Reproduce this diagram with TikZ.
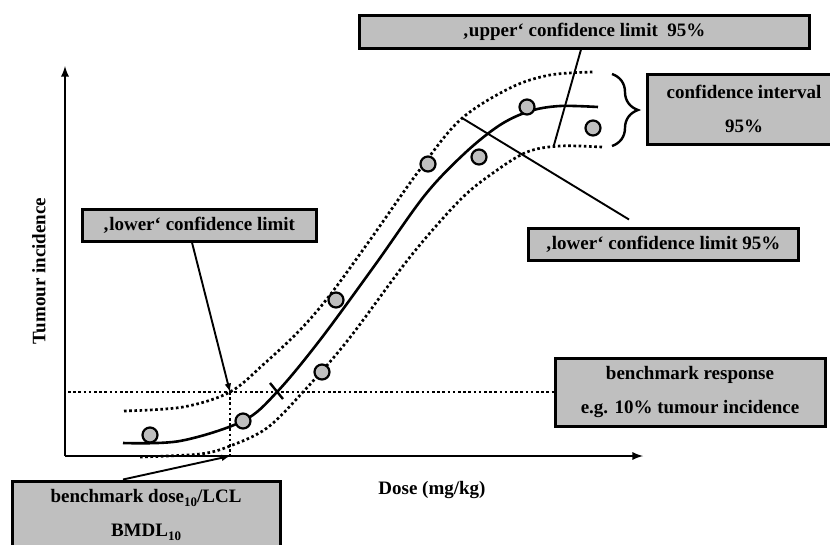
\documentclass[tikz,border=0pt]{standalone}
\usepackage{fontspec}
\setmainfont{Liberation Serif}
\usetikzlibrary{positioning}
\usetikzlibrary{decorations.pathreplacing}
\tikzset{
    Box/.style = {rectangle, draw=black, line width=3pt, fill=black!25, inner sep=0pt, align=center}
}
\tikzset{
    Edge/.style = {draw=black, line width=1.9pt}
}
\newcommand{\lowten}{\raisebox{-4pt}{\fontsize{13}{13}\selectfont 10}}

\begin{document}
\begin{tikzpicture}[
    x=1pt, y=-1pt,
    font=\bfseries\fontsize{19}{34}\selectfont
]
\tikzset{
    Point/.style = {circle, draw=black, line width=2.2pt, fill=black!25, minimum size=15pt, inner sep=0pt},
    Band/.style = {line width=2.7pt, dash pattern=on 2.6pt off 2.6pt},
    Axis/.style = {line width=2.6pt, -latex},
}
\useasboundingbox (0,0) rectangle (830,544);
\clip (0,0) rectangle (830,544);
\fill[white] (0,0) rectangle (830,544);

% axes
\coordinate (origin) at (65,456);
\coordinate (ytip) at (65,66);
\coordinate (xtip) at (643,456);
\draw[Axis] (origin) -- (ytip);
\draw[Axis] (origin) -- (xtip);
\node[rotate=90] (ylab) at (39,271) {Tumour incidence};
\node (xlab) at (432,490) {Dose (mg/kg)};

% labels
\node[Box, minimum width=450pt, minimum height=33pt] at (584,31.5) (upper) {‚upper‘ confidence limit~ 95\%};
\node[Box, minimum width=194pt, minimum height=70pt] at (744,109) (interval) {confidence interval\\95\%};
\node[Box, minimum width=234pt, minimum height=32pt] at (199,225) (lowerlim) {‚lower‘ confidence limit};
\node[Box, minimum width=270pt, minimum height=32pt] at (663,244) (lower95) {‚lower‘ confidence limit 95\%};
\node[Box, minimum width=270pt, minimum height=68pt] at (690,392) (bmr) {benchmark response\\e.g. 10\% tumour incidence};
\node[Box, minimum width=268pt, minimum height=68pt] at (146,515) (bmdl) {benchmark dose\lowten/LCL\\BMDL\lowten};

% curves
\draw[Band] plot[smooth, tension=0.55] coordinates {(124,411) (183,407) (230,392) (265,363) (300,330) (330,295) (370,240) (418,172) (460,120) (510,88) (550,75) (593,72)};
\draw[Band] plot[smooth, tension=0.55] coordinates {(140,457) (200,454) (230,446) (267,428) (303,392) (348,340) (410,257) (460,200) (493,173) (527,152) (560,146) (602,147)};
\draw[line width=2.6pt] plot[smooth, tension=0.55] coordinates {(123,443) (180,441) (243,421) (277,392) (320,340) (375,265) (425,195) (465,153) (500,125) (530,111) (560,106) (598,107)};
\draw[line width=2.4pt] (270,383) -- (283,399);

% benchmark lines
\coordinate (bmd) at (230,392);
\coordinate (bmdaxis) at (230,456);
\draw[Band] (68,392) -- (bmr.west);
\draw[Band] (bmd) -- (bmdaxis);

% data
\node[Point] at (150,435) (p1) {};
\node[Point] at (243,421) (p2) {};
\node[Point] at (322,372) (p3) {};
\node[Point] at (336,300) (p4) {};
\node[Point] at (428,164) (p5) {};
\node[Point] at (479,157) (p6) {};
\node[Point] at (527,107) (p7) {};
\node[Point] at (593,128) (p8) {};

% brace
\draw[line width=2.4pt, decorate, decoration={brace, amplitude=26pt}] (612,74) -- (612,146);

% pointers
\coordinate (upend) at (554,145);
\coordinate (loend) at (462,118);
\path ([xshift=-7pt]lowerlim.south) edge [Edge,-latex] (bmd);
\path ([xshift=-23pt]bmdl.north) edge [Edge,-latex] (bmdaxis);
\path ([xshift=-3pt]upper.south) edge [Edge] (upend);
\path ([xshift=-34pt,yshift=7pt]lower95.north) edge [Edge] (loend);
\end{tikzpicture}
\end{document}
